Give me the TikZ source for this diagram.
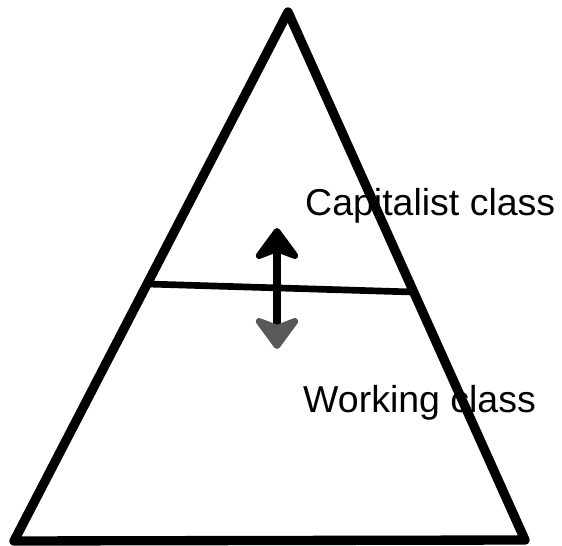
\documentclass[tikz,border=0pt]{standalone}
\usepackage{fontspec}
\setmainfont{Liberation Sans}
\usetikzlibrary{arrows.meta,positioning}

\begin{document}
\begin{tikzpicture}[
  x=0.3mm, y=-0.3mm,
  edge/.style={draw=black, line width=2.8mm, line cap=round, line join=round},
  divider/.style={draw=black, line width=2mm},
  label/.style={font=\fontsize{32}{36}\selectfont, anchor=west, inner sep=0pt},
  updown/.style={line width=2.2mm,
    {Stealth[length=11mm, width=16mm, inset=3mm, round, color=black!65]}-{Stealth[length=11mm, width=16mm, inset=3mm, round]}}]
  \useasboundingbox (0,0) rectangle (562,546);
  \coordinate (apex) at (288,12);
  \coordinate (bl) at (14,541);
  \coordinate (br) at (525,540);
  \coordinate (dl) at (148,284);
  \coordinate (dr) at (412,292);
  \coordinate (up) at (277,228);
  \coordinate (down) at (277,349);
  \draw[edge] (bl) -- (apex) -- (br) -- cycle;
  \draw[divider] (dl) -- (dr);
  \draw[updown] (down) -- (up);
  \node[label] (cap) at (305,206) {Capitalist class};
  \node[label] (work) at (303,403) {Working class};
\end{tikzpicture}
\end{document}
